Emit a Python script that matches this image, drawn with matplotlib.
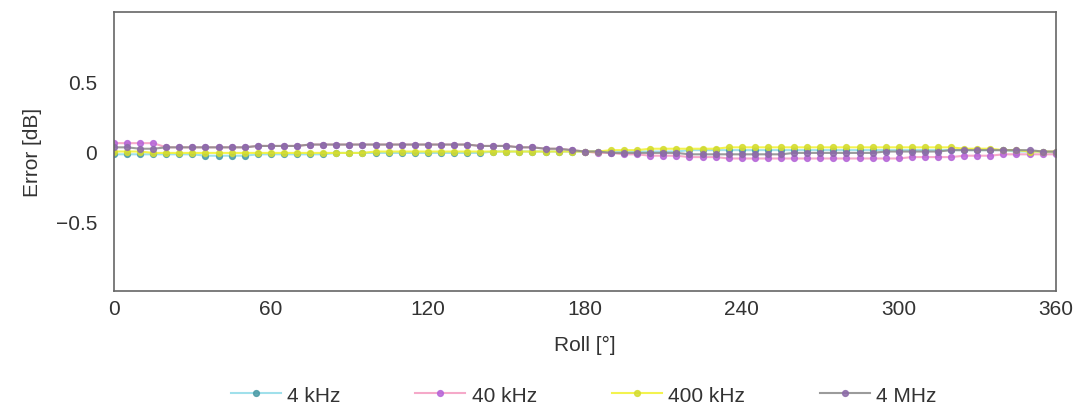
import matplotlib
matplotlib.use("Agg")
import matplotlib.pyplot as plt
import numpy as np

plt.rcParams['font.family'] = ['Liberation Sans', 'DejaVu Sans']

# roll angle, 5 degree steps
roll = np.arange(0, 361, 5)

# error in dB (73 points each)
err_4k = [-0.02, -0.02, -0.02, -0.02, -0.02, -0.02, -0.02, -0.03, -0.03, -0.03,
          -0.03, -0.02, -0.02, -0.02, -0.02, -0.02, -0.02, -0.01, -0.01, -0.01,
          -0.01, -0.01, -0.01, -0.01, -0.01, -0.01, -0.01, -0.01, -0.01, 0.0,
          0.0, 0.0, 0.0, 0.0, 0.0, 0.0, 0.0, 0.0, 0.0, 0.0,
          0.0, 0.0, 0.0, 0.0, 0.01, 0.01, 0.01, 0.01, 0.01, 0.01,
          0.01, 0.01, 0.01, 0.01, 0.01, 0.01, 0.01, 0.01, 0.01, 0.01,
          0.01, 0.01, 0.01, 0.01, 0.01, 0.01, 0.01, 0.01, 0.01, 0.0,
          0.0, 0.0, -0.01]
err_40k = [0.06, 0.06, 0.06, 0.06, 0.03, 0.03, 0.03, 0.03, 0.03, 0.03,
           0.03, 0.04, 0.04, 0.04, 0.04, 0.05, 0.05, 0.05, 0.05, 0.05,
           0.05, 0.05, 0.05, 0.05, 0.05, 0.05, 0.05, 0.05, 0.04, 0.04,
           0.04, 0.03, 0.03, 0.02, 0.02, 0.01, 0.0, -0.01, -0.01, -0.02,
           -0.02, -0.03, -0.03, -0.03, -0.04, -0.04, -0.04, -0.05, -0.05, -0.05,
           -0.05, -0.05, -0.05, -0.05, -0.05, -0.05, -0.05, -0.05, -0.05, -0.05,
           -0.05, -0.04, -0.04, -0.04, -0.04, -0.03, -0.03, -0.03, -0.02, -0.02,
           -0.02, -0.02, -0.02]
err_400k = [0.0, 0.0, 0.0, -0.01, -0.01, -0.01, -0.01, -0.01, -0.01, -0.01,
            -0.01, -0.01, -0.01, -0.01, -0.01, -0.01, -0.01, -0.01, -0.01, -0.01,
            0.0, 0.0, 0.0, 0.0, 0.0, 0.0, 0.0, 0.0, 0.0, 0.0,
            0.0, 0.0, 0.0, 0.0, 0.0, 0.0, 0.0, 0.0, 0.01, 0.01,
            0.01, 0.02, 0.02, 0.02, 0.02, 0.02, 0.02, 0.03, 0.03, 0.03,
            0.03, 0.03, 0.03, 0.03, 0.03, 0.03, 0.03, 0.03, 0.03, 0.03,
            0.03, 0.03, 0.03, 0.03, 0.03, 0.02, 0.02, 0.02, 0.01, 0.01,
            0.0, 0.0, 0.0]
err_4m = [0.03, 0.03, 0.02, 0.02, 0.03, 0.03, 0.03, 0.03, 0.03, 0.03,
          0.03, 0.04, 0.04, 0.04, 0.04, 0.05, 0.05, 0.05, 0.05, 0.05,
          0.05, 0.05, 0.05, 0.05, 0.05, 0.05, 0.05, 0.05, 0.04, 0.04,
          0.04, 0.03, 0.03, 0.02, 0.02, 0.01, 0.0, 0.0, -0.01, -0.01,
          -0.01, -0.01, -0.01, -0.01, -0.02, -0.02, -0.02, -0.02, -0.02, -0.02,
          -0.02, -0.02, -0.01, -0.01, -0.01, -0.01, -0.01, -0.01, -0.01, 0.0,
          0.0, 0.0, 0.0, 0.0, 0.01, 0.01, 0.01, 0.01, 0.01, 0.01,
          0.01, 0.0, 0.0]

series = [
    ("4 kHz", err_4k, "#8fdbe8", "#4a9aa5"),
    ("40 kHz", err_40k, "#f49ac0", "#b565d8"),
    ("400 kHz", err_400k, "#f2f230", "#d4dc30"),
    ("4 MHz", err_4m, "#8a8a8a", "#8c6aa8"),
]

fig, ax = plt.subplots(figsize=(10.85, 4.1), dpi=100)
fig.subplots_adjust(left=0.105, right=0.973, top=0.968, bottom=0.288)

for label, vals, lc, mc in series:
    ax.plot(roll, vals, color=lc, lw=1.5, marker="o", ms=4.2,
            mfc=mc, mec=mc, label=label, alpha=0.85)

ax.set_xlim(0, 360)
ax.set_ylim(-1, 1)
ax.set_xticks(np.arange(0, 361, 60))
ax.set_yticks([-0.5, 0, 0.5])
ax.set_yticklabels(["\u22120.5", "0", "0.5"])
ax.tick_params(labelsize=15, length=0, colors="#333333")
ax.tick_params(axis="y", pad=12)
ax.tick_params(axis="x", pad=6)
for s in ax.spines.values():
    s.set_color("#666666")
    s.set_linewidth(1.2)

ax.set_xlabel("Roll [°]", fontsize=15, color="#333333", labelpad=12)
ax.set_ylabel("Error [dB]", fontsize=15, color="#333333", labelpad=10)

leg = fig.legend(loc="lower center", bbox_to_anchor=(0.538, -0.035), ncol=4,
                 frameon=False, fontsize=15, columnspacing=3.6, handlelength=2.4,
                 handletextpad=0.3)
for t in leg.get_texts():
    t.set_color("#333333")

plt.savefig("out.png", dpi=100)
plt.close()
